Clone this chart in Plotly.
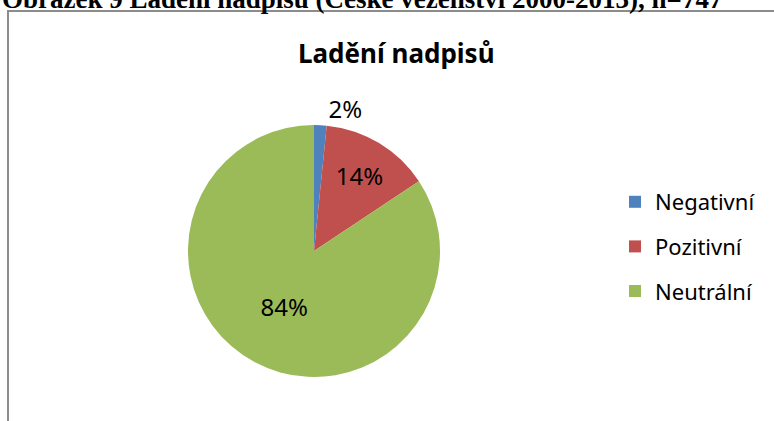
import plotly.graph_objects as go

categories = ["Negativní", "Pozitivní", "Neutrální"]
counts = [12, 105, 630]
colors = ["#4F81BD", "#C0504D", "#9BBB59"]
text_positions = ["outside", "inside", "inside"]

W, H = 774, 421
cx, cy, r = 314, 251, 126

fig = go.Figure()
fig.add_trace(go.Pie(
    labels=categories,
    values=counts,
    marker=dict(colors=colors, line=dict(width=0)),
    sort=False,
    direction="clockwise",
    rotation=0,
    textinfo="percent",
    texttemplate="%{percent:.0%}",
    textposition=text_positions,
    insidetextorientation="horizontal",
    textfont=dict(family="Noto Sans", size=24, color="#000000"),
    domain=dict(x=[(cx - r) / W, (cx + r) / W], y=[(H - cy - r) / H, (H - cy + r) / H]),
    hoverinfo="label+percent",
    showlegend=False,
))

# legend entries (one per category)
for i, (name, col) in enumerate(zip(categories, colors)):
    fig.add_trace(go.Scatter(
        x=[None], y=[None], mode="markers", name=name,
        marker=dict(symbol="square", size=11, color=col),
        legendgroup=f"g{i}", showlegend=True, hoverinfo="skip",
    ))

fig.update_layout(
    width=W, height=H,
    margin=dict(l=0, r=0, t=0, b=0, autoexpand=False),
    paper_bgcolor="white",
    plot_bgcolor="rgba(0,0,0,0)",
    xaxis=dict(visible=False),
    yaxis=dict(visible=False),
    showlegend=True,
    legend=dict(
        x=615 / W, y=(H - 181) / H, xanchor="left", yanchor="top",
        font=dict(family="Noto Sans", size=22, color="#000000"),
        tracegroupgap=13, itemsizing="constant",
        traceorder="grouped",
        bgcolor="rgba(0,0,0,0)",
    ),
    shapes=[
        dict(type="line", xref="paper", yref="paper", x0=7 / W, x1=1.01, y0=(H - 11) / H, y1=(H - 11) / H,
             line=dict(color="#8C8C8C", width=2)),
        dict(type="line", xref="paper", yref="paper", x0=8 / W, x1=8 / W, y0=(H - 10) / H, y1=-0.01,
             line=dict(color="#8C8C8C", width=2)),
    ],
    annotations=[
        dict(text="<b>Ladění nadpisů</b>", x=396 / W, y=(H - 53) / H, xref="paper", yref="paper",
             xanchor="center", yanchor="middle", showarrow=False,
             font=dict(family="Noto Sans", size=26, color="#000000")),
        dict(text="<b>Obrázek 9 Ladění nadpisů (České vězeňství 2000-2013), n=747</b>", x=0, y=(H + 1.5) / H,
             xref="paper", yref="paper", xanchor="left", yanchor="middle", showarrow=False,
             font=dict(family="Liberation Serif", size=27, color="#000000")),
    ],
)

fig.write_html("out.html", config={"displayModeBar": False},
               post_script="document.body.style.margin='0';")
